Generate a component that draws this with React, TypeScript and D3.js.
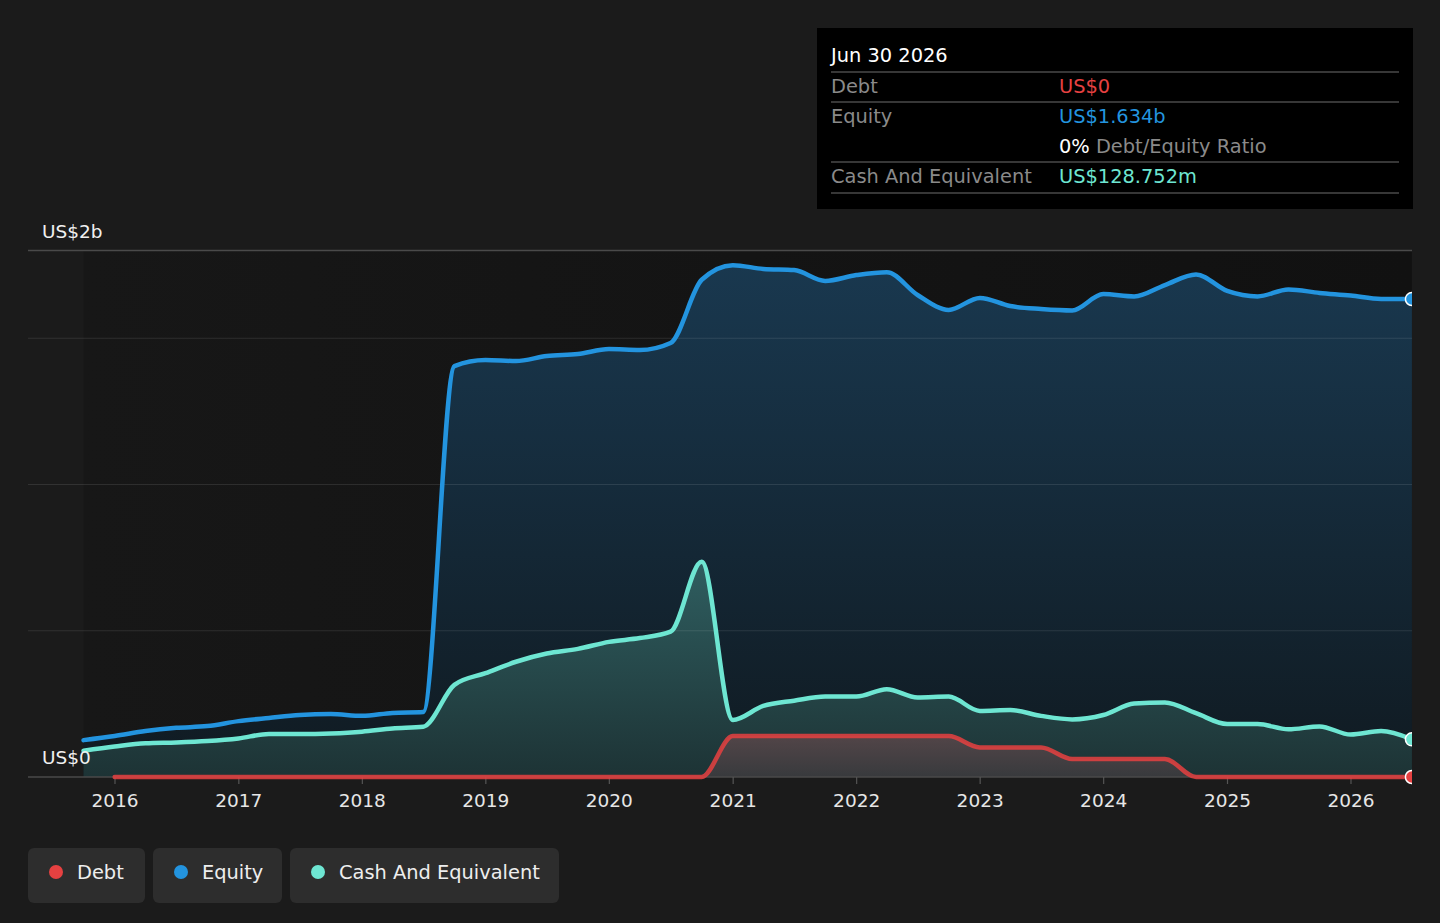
import React from "react";
import * as d3 from "d3";

const dates: string[] = [
  "2015-09-30", "2015-12-31", "2016-03-31", "2016-06-30", "2016-09-30", "2016-12-31",
  "2017-03-31", "2017-06-30", "2017-09-30", "2017-12-31", "2018-03-31", "2018-06-30",
  "2018-09-30", "2018-12-31", "2019-03-31", "2019-06-30", "2019-09-30", "2019-12-31",
  "2020-03-31", "2020-06-30", "2020-09-30", "2020-12-31", "2021-03-31", "2021-06-30",
  "2021-09-30", "2021-12-31", "2022-03-31", "2022-06-30", "2022-09-30", "2022-12-31",
  "2023-03-31", "2023-06-30", "2023-09-30", "2023-12-31", "2024-03-31", "2024-06-30",
  "2024-09-30", "2024-12-31", "2025-03-31", "2025-06-30", "2025-09-30", "2025-12-31",
  "2026-03-31", "2026-06-30",
];

// values in US$ billions
const equity: number[] = [
  0.126, 0.14, 0.157, 0.168, 0.174, 0.191, 0.202, 0.212, 0.215, 0.209, 0.219, 0.222,
  1.405, 1.426, 1.422, 1.439, 1.446, 1.463, 1.46, 1.484, 1.7, 1.75, 1.737, 1.733,
  1.696, 1.716, 1.726, 1.648, 1.597, 1.638, 1.61, 1.6, 1.595, 1.651, 1.643, 1.682,
  1.718, 1.662, 1.643, 1.667, 1.655, 1.646, 1.634, 1.634,
];

const cash: number[] = [
  0.09, 0.104, 0.115, 0.118, 0.123, 0.132, 0.147, 0.147, 0.149, 0.155, 0.166, 0.172,
  0.315, 0.355, 0.394, 0.422, 0.438, 0.462, 0.475, 0.497, 0.736, 0.195, 0.243, 0.261,
  0.275, 0.275, 0.3, 0.272, 0.275, 0.226, 0.229, 0.209, 0.197, 0.212, 0.251, 0.255,
  0.218, 0.181, 0.181, 0.163, 0.173, 0.145, 0.157, 0.1288,
];

const debt: (number | null)[] = [
  null, 0, 0, 0, 0, 0, 0, 0, 0, 0, 0, 0,
  0, 0, 0, 0, 0, 0, 0, 0, 0, 0.14, 0.14, 0.14,
  0.14, 0.14, 0.14, 0.14, 0.14, 0.101, 0.101, 0.101, 0.0615, 0.0615, 0.0615, 0.0615,
  0, 0, 0, 0, 0, 0, 0, 0,
];

const yTickValues: number[] = [0, 1.8];
const yTickLabels: string[] = ["US$0", "US$2b"];
const gridValues: number[] = [0.5, 1.0, 1.5, 1.8];
const xTickYears: number[] = [2016, 2017, 2018, 2019, 2020, 2021, 2022, 2023, 2024, 2025, 2026];

const seriesNames: string[] = ["Debt", "Equity", "Cash And Equivalent"];
const seriesColors: string[] = ["#e64141", "#2394df", "#6ee6d2"];

const tooltipTitle = "Jun 30 2026";
const tooltipRows = [
  { label: "Debt", value: "US$0", color: "#e64141" },
  { label: "Equity", value: "US$1.634b", color: "#2394df" },
];
const ratioValue = "0%";
const ratioLabel = " Debt/Equity Ratio";
const cashRow = { label: "Cash And Equivalent", value: "US$128.752m", color: "#6ee6d2" };

const W = 1440;
const H = 923;
const FONT = "'DejaVu Sans', Verdana, sans-serif";
const FS = 19.4;

export default function App() {
  React.useEffect(() => {
    document.body.style.margin = "0";
    document.body.style.background = "#1b1b1b";
  }, []);

  const parse = d3.timeParse("%Y-%m-%d");
  const t = dates.map((d) => parse(d) as Date);

  const x = d3
    .scaleTime()
    .domain([new Date(2016, 0, 1), new Date(2026, 0, 1)])
    .range([115, 1351]);
  const y = d3.scaleLinear().domain([0, 1.8]).range([777, 250.5]);

  const left = 28;
  const right = 1412;
  const dataStart = x(t[0]);
  const dataEnd = x(t[t.length - 1]);

  type P = { d: Date; v: number | null };
  const eq: P[] = t.map((d, i) => ({ d, v: equity[i] }));
  const ca: P[] = t.map((d, i) => ({ d, v: cash[i] }));
  const de: P[] = t.map((d, i) => ({ d, v: debt[i] }));

  const line = d3
    .line<P>()
    .defined((p) => p.v !== null)
    .x((p) => x(p.d))
    .y((p) => y(p.v as number))
    .curve(d3.curveMonotoneX);
  const area = d3
    .area<P>()
    .defined((p) => p.v !== null)
    .x((p) => x(p.d))
    .y0(y(0))
    .y1((p) => y(p.v as number))
    .curve(d3.curveMonotoneX);

  const last = t.length - 1;

  return (
    <svg
      width={W}
      height={H}
      style={{ position: "absolute", left: 0, top: 0, display: "block" }}
      fontFamily={FONT}
    >
      <defs>
        <linearGradient id="bgGrad" x1="0" x2="1" y1="0" y2="0">
          <stop offset="0%" stopColor="#171717" />
          <stop offset="100%" stopColor="#111111" />
        </linearGradient>
        <linearGradient id="eqGrad" gradientUnits="userSpaceOnUse" x1="0" x2="0" y1={y(1.75)} y2={y(0)}>
          <stop offset="0%" stopColor="#19384f" />
          <stop offset="100%" stopColor="#101a21" />
        </linearGradient>
        <linearGradient id="caGrad" gradientUnits="userSpaceOnUse" x1="0" x2="0" y1={y(0.74)} y2={y(0)}>
          <stop offset="0%" stopColor="#2f5e60" />
          <stop offset="100%" stopColor="#1d3335" />
        </linearGradient>
        <linearGradient id="deGrad" gradientUnits="userSpaceOnUse" x1="0" x2="0" y1={y(0.14)} y2={y(0)}>
          <stop offset="0%" stopColor="#524548" />
          <stop offset="100%" stopColor="#383a3d" />
        </linearGradient>
        <clipPath id="plotClip">
          <rect x={left} y={200} width={right - left} height={600} />
        </clipPath>
      </defs>

      <rect x={0} y={0} width={W} height={H} fill="#1b1b1b" />

      {/* data region background */}
      <rect x={dataStart} y={y(1.8)} width={dataEnd - dataStart} height={y(0) - y(1.8)} fill="url(#bgGrad)" />

      {/* areas */}
      <path d={area(eq) || ""} fill="url(#eqGrad)" />
      <path d={area(ca) || ""} fill="url(#caGrad)" />
      <path d={area(de) || ""} fill="url(#deGrad)" />

      {/* gridlines */}
      {gridValues.map((g) => (
        <line
          key={g}
          x1={left}
          x2={right}
          y1={y(g)}
          y2={y(g)}
          stroke={g === 1.8 ? "#4a4a4a" : "rgba(255,255,255,0.1)"}
          strokeWidth={g === 1.8 ? 1.5 : 1.2}
        />
      ))}

      {/* x axis */}
      <line x1={left} x2={right} y1={y(0)} y2={y(0)} stroke="#4a4a4a" strokeWidth={1.5} />
      {xTickYears.map((yr) => {
        const xx = x(new Date(yr, 0, 1));
        return (
          <g key={yr}>
            <line x1={xx} x2={xx} y1={y(0)} y2={y(0) + 7} stroke="#555" strokeWidth={1.2} />
            <text x={xx} y={807} fill="#e6e6e6" fontSize={18.5} textAnchor="middle">
              {yr}
            </text>
          </g>
        );
      })}

      {/* lines */}
      <g clipPath="url(#plotClip)" fill="none" strokeLinejoin="round" strokeLinecap="round">
        <path d={line(eq) || ""} stroke={seriesColors[1]} strokeWidth={4.5} />
        <path d={line(ca) || ""} stroke={seriesColors[2]} strokeWidth={4.5} />
        <path d={line(de) || ""} stroke={seriesColors[0]} strokeWidth={4.5} opacity={0.85} />
        <circle cx={x(t[last])} cy={y(equity[last])} r={6.5} fill={seriesColors[1]} stroke="#fff" strokeWidth={1.5} />
        <circle cx={x(t[last])} cy={y(cash[last])} r={6.5} fill={seriesColors[2]} stroke="#fff" strokeWidth={1.5} />
        <circle cx={x(t[last])} cy={y(debt[last] as number)} r={6.5} fill={seriesColors[0]} stroke="#fff" strokeWidth={1.5} />
      </g>

      {/* y labels */}
      {yTickValues.map((v, i) => (
        <text key={v} x={42} y={y(v) - 13} fill="#f0f0f0" fontSize={18.5}>
          {yTickLabels[i]}
        </text>
      ))}

      {/* tooltip */}
      <g>
        <rect x={817} y={28} width={596} height={181} fill="#000" />
        <text x={831} y={62} fill="#fff" fontSize={FS}>
          {tooltipTitle}
        </text>
        {[72, 102, 162, 193].map((ly) => (
          <line key={ly} x1={831} x2={1399} y1={ly} y2={ly} stroke="#4a4a4a" strokeWidth={1.5} />
        ))}
        {tooltipRows.map((r, i) => (
          <g key={r.label}>
            <text x={831} y={93 + i * 30} fill="#8a8a8a" fontSize={FS}>
              {r.label}
            </text>
            <text x={1059} y={93 + i * 30} fill={r.color} fontSize={FS}>
              {r.value}
            </text>
          </g>
        ))}
        <text x={1059} y={153} fontSize={FS}>
          <tspan fill="#fff">{ratioValue}</tspan>
          <tspan fill="#8a8a8a">{ratioLabel}</tspan>
        </text>
        <text x={831} y={183} fill="#8a8a8a" fontSize={FS}>
          {cashRow.label}
        </text>
        <text x={1059} y={183} fill={cashRow.color} fontSize={FS}>
          {cashRow.value}
        </text>
      </g>

      {/* legend */}
      {(() => {
        const widths = [117, 129, 269];
        let cx = 28;
        return seriesNames.map((name, i) => {
          const bx = cx;
          cx += widths[i] + 8;
          return (
            <g key={name}>
              <rect x={bx} y={848} width={widths[i]} height={55} rx={6} fill="#2d2d2d" />
              <circle cx={bx + 28} cy={872} r={7} fill={seriesColors[i]} />
              <text x={bx + 49} y={879} fill="#eeeeee" fontSize={FS}>
                {name}
              </text>
            </g>
          );
        });
      })()}
    </svg>
  );
}
